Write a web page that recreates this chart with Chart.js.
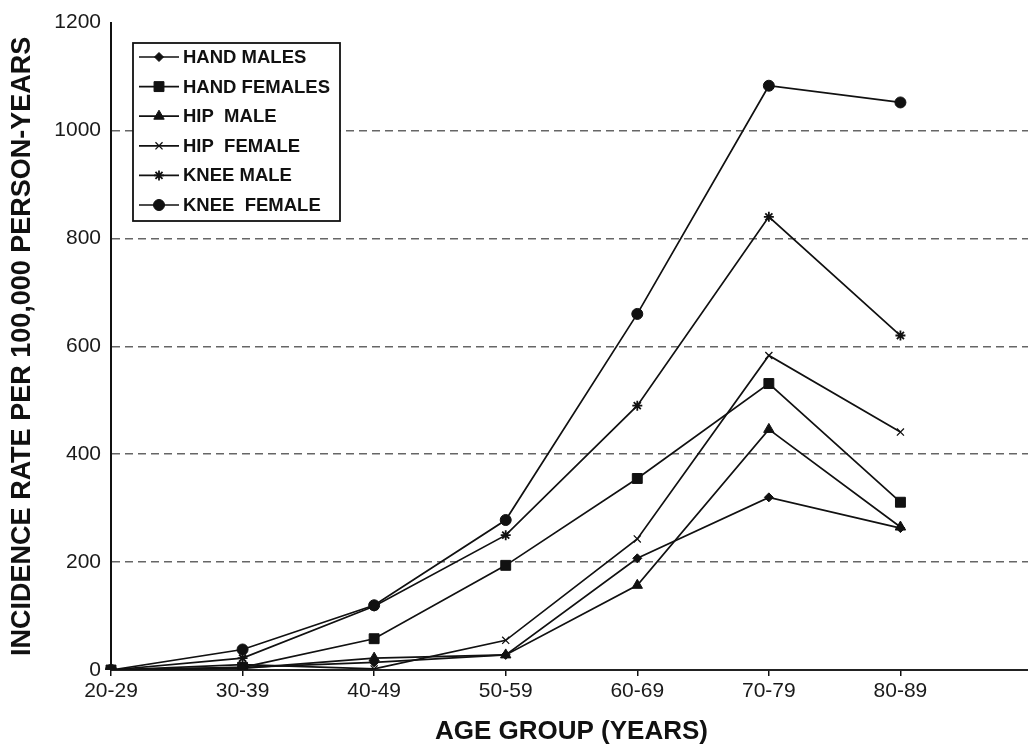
<!DOCTYPE html>
<html lang="en">
<head>
<meta charset="UTF-8" />
<title>Incidence rate by age group</title>
<style>
  html, body { margin: 0; padding: 0; background: #fff; overflow: hidden; }
  #wrap { width: 1028px; height: 747px; overflow: hidden; }
</style>
</head>
<body>
<!-- canvas is a little wider than the page: the axis runs on past the right edge -->
<div id="wrap"><canvas id="chart" width="1035" height="747"></canvas></div>

<script src="https://cdn.jsdelivr.net/npm/chart.js@4"></script>
<script>
  // categories (last one is an empty slot so the axis runs on past 80-89)
  const ageGroups = ["20-29", "30-39", "40-49", "50-59", "60-69", "70-79", "80-89", ""];

  // incidence per 100,000 person-years
  const handMales   = [0, 5, 14, 28, 207, 320, 263];
  const handFemales = [0, 5, 58, 194, 355, 531, 311];
  const hipMale     = [0, 3, 22, 28, 157, 446, 265];
  const hipFemale   = [0, 10, 2, 55, 243, 583, 441];
  const kneeMale    = [0, 22, 118, 250, 490, 840, 620];
  const kneeFemale  = [0, 38, 120, 278, 660, 1083, 1052];

  const yTicks = [0, 200, 400, 600, 800, 1000, 1200];

  const FONT = "'Liberation Sans', Arial, sans-serif";
  const INK = "#111";

  function series(label, data, style, radius, width) {
    return {
      label: label,
      data: data,
      borderColor: INK,
      backgroundColor: INK,
      borderWidth: 1.7,
      pointStyle: style,
      pointRadius: radius,
      pointHoverRadius: radius,
      pointBorderWidth: width,
      pointBorderColor: INK,
      pointBackgroundColor: INK,
      tension: 0,
      fill: false
    };
  }

  const datasets = [
    series("HAND MALES", handMales, "rectRot", 4.5, 1),
    series("HAND FEMALES", handFemales, "rect", 7, 1),
    series("HIP  MALE", hipMale, "triangle", 6, 1),
    series("HIP  FEMALE", hipFemale, "crossRot", 5, 1.3),
    series("KNEE MALE", kneeMale, "star", 5, 1.8),
    series("KNEE  FEMALE", kneeFemale, "circle", 5.5, 1)
  ];

  // legend box drawn inside the plot, white filled over the grid
  const boxLegend = {
    id: "boxLegend",
    afterDraw(chart) {
      const ctx = chart.ctx;
      const left = 133, top = 43, w = 207, h = 178;
      ctx.save();
      ctx.fillStyle = "#fff";
      ctx.fillRect(left, top, w, h);
      ctx.strokeStyle = INK;
      ctx.lineWidth = 1.8;
      ctx.strokeRect(left, top, w, h);

      chart.data.datasets.forEach((ds, i) => {
        const y = 57 + i * 29.6;
        ctx.strokeStyle = INK;
        ctx.lineWidth = 1.7;
        ctx.beginPath();
        ctx.moveTo(139, y);
        ctx.lineTo(179, y);
        ctx.stroke();

        ctx.fillStyle = INK;
        ctx.lineWidth = ds.pointBorderWidth;
        Chart.helpers.drawPoint(ctx, {
          pointStyle: ds.pointStyle,
          radius: ds.pointRadius,
          rotation: 0,
          borderWidth: ds.pointBorderWidth
        }, 159, y);

        ctx.fillStyle = INK;
        ctx.font = "bold 18.5px " + FONT;
        ctx.textAlign = "left";
        ctx.textBaseline = "middle";
        ctx.fillText(ds.label, 183, y + 1);
      });
      ctx.restore();
    }
  };

  new Chart(document.getElementById("chart"), {
    type: "line",
    data: { labels: ageGroups, datasets: datasets },
    plugins: [boxLegend],
    options: {
      responsive: false,
      animation: false,
      layout: { autoPadding: false, padding: { top: 10, right: 0, left: 0, bottom: 0 } },
      plugins: {
        legend: { display: false },
        tooltip: { enabled: false }
      },
      scales: {
        x: {
          offset: false,
          afterFit(scale) { scale.height = 77; },
          grid: {
            drawOnChartArea: false,
            drawTicks: true,
            tickLength: 6,
            color: INK,
            lineWidth: 1.5
          },
          border: { display: true, color: "#222", width: 2 },
          ticks: {
            padding: 3,
            color: "#1a1a1a",
            font: { family: FONT, size: 21 },
            maxRotation: 0,
            autoSkip: false
          },
          title: {
            display: true,
            text: "AGE GROUP (YEARS)",
            color: INK,
            font: { family: FONT, size: 26, weight: "bold" },
            padding: { top: 0, bottom: 0 }
          }
        },
        y: {
          min: 0,
          max: 1200,
          afterFit(scale) { scale.width = 111; },
          afterBuildTicks(scale) { scale.ticks = yTicks.map(v => ({ value: v })); },
          grid: {
            drawTicks: false,
            lineWidth: 1.6,
            color: c => (c.tick.value === 0 || c.tick.value === 1200) ? "rgba(0,0,0,0)" : "#666"
          },
          border: { display: true, color: INK, width: 2, dash: [8, 5] },
          ticks: {
            padding: 10,
            color: "#1a1a1a",
            font: { family: FONT, size: 21 },
            callback: v => String(v)
          },
          title: {
            display: true,
            text: "INCIDENCE RATE PER 100,000 PERSON-YEARS",
            color: INK,
            font: { family: FONT, size: 27, weight: "bold" },
            padding: { top: 6, bottom: 0 }
          }
        }
      }
    }
  });
</script>
</body>
</html>
